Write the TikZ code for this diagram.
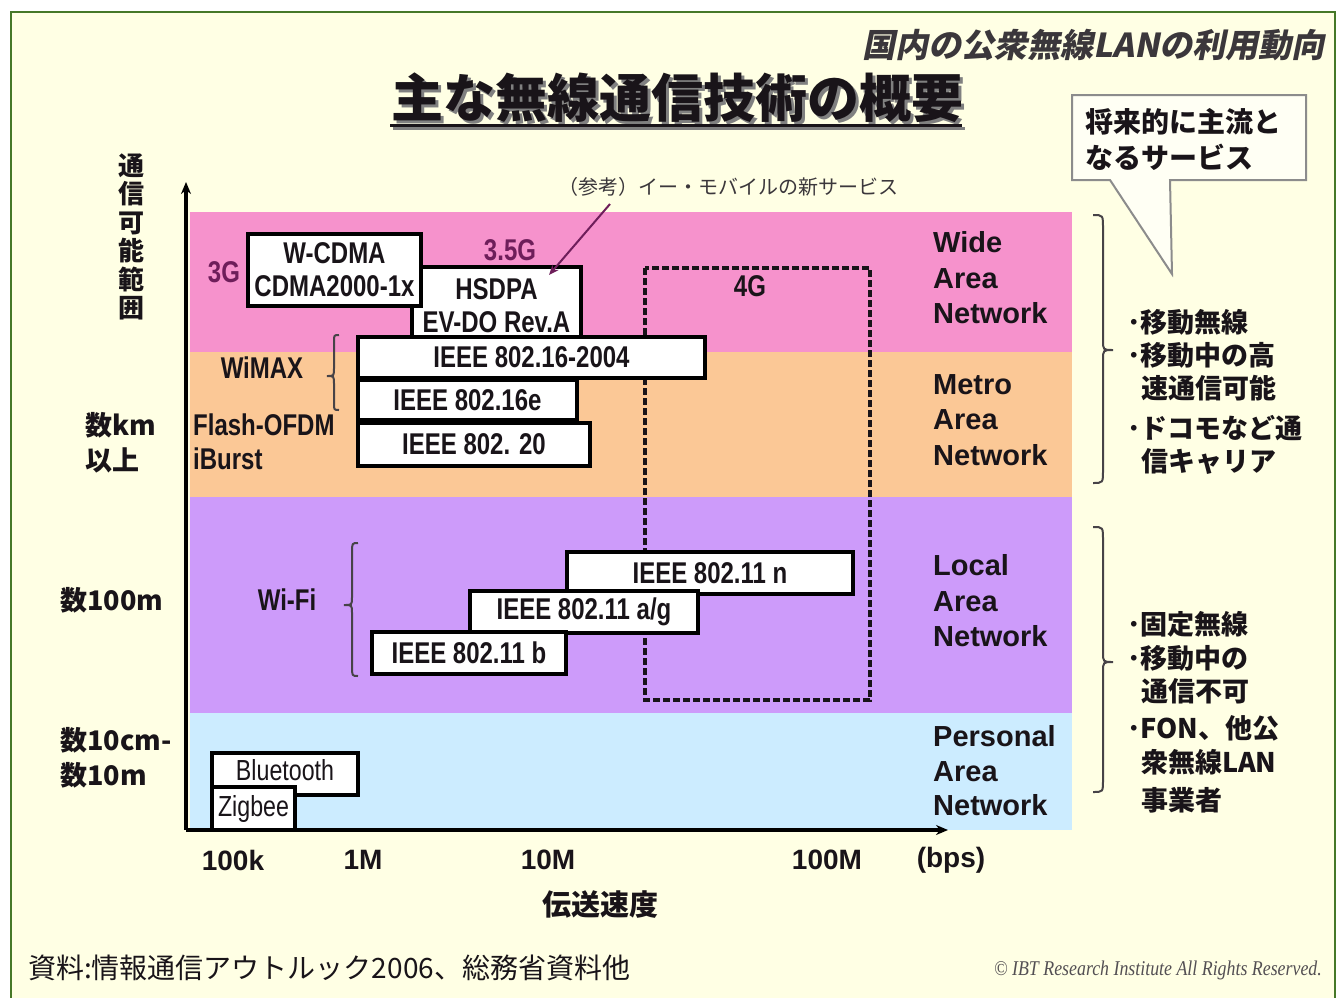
\documentclass[tikz,border=0pt]{standalone}
\usepackage{fontspec}
\usetikzlibrary{arrows.meta}
\newfontfamily\jp{Noto Sans CJK JP}
\newfontfamily\jpsl{Noto Sans CJK JP}[FakeSlant=0.2]
\newfontfamily\nar{Liberation Sans}[FakeStretch=0.8]
\newfontfamily\lsans{Liberation Sans}
\newfontfamily\lser{Liberation Serif}[FakeStretch=0.85]
\definecolor{bg}{RGB}{255,255,228}
\definecolor{framec}{RGB}{70,120,40}
\definecolor{wan}{RGB}{246,146,204}
\definecolor{man}{RGB}{251,200,150}
\definecolor{lan}{RGB}{205,155,250}
\definecolor{pan}{RGB}{204,236,255}
\definecolor{txt}{RGB}{25,20,25}
\definecolor{mag}{RGB}{110,30,90}
\definecolor{callc}{RGB}{140,140,140}
\tikzset{
  techbox/.style={draw=black, line width=3.2pt, fill=white, inner sep=0pt,
    font=\nar\bfseries\fontsize{30}{33}\selectfont, text=txt, align=center},
  nt/.style={font=\nar\bfseries\fontsize{30}{33}\selectfont, text=txt, inner sep=0pt},
  bandlbl/.style={font=\lsans\bfseries\fontsize{29}{35.5}\selectfont, align=left, anchor=west, text=txt, inner sep=0pt},
  jpb/.style={font=\jp\bfseries\fontsize{27}{33}\selectfont, text=txt, inner sep=0pt},
  ticklbl/.style={font=\lsans\bfseries\fontsize{28}{30}\selectfont, inner sep=0pt, text=txt},
  rlist/.style={font=\jp\bfseries\fontsize{27}{33}\selectfont, text=txt, inner sep=0pt, anchor=west},
  bracec/.style={line width=2pt, draw=txt!80},
  axis/.style={line width=3.5pt, draw=black, -{Stealth[length=12pt,width=10pt]}},
}
\begin{document}
\begin{tikzpicture}[x=1pt,y=-1pt]
\useasboundingbox (0,0) rectangle (1339,997);
\fill[white] (0,0) rectangle (1339,997);
\fill[bg] (11,12) rectangle (1335,1002);
\draw[framec, line width=2.5pt] (11,1002) -- (11,12) -- (1335,12) -- (1335,1002);

% bands
\fill[wan] (190,212) rectangle (1072,352);
\fill[man] (190,352) rectangle (1072,497);
\fill[lan] (190,497) rectangle (1072,713);
\fill[pan] (190,713) rectangle (1072,830);

% title (with shadow in one node)
\node[font=\jp\bfseries\fontsize{52}{56}\selectfont, text=txt, inner sep=0pt] (title) at (677.5,99.5)
  {\makebox[0pt][l]{\hspace{3pt}\raisebox{-3pt}{\textcolor{black!50}{主な無線通信技術の概要}}}主な無線通信技術の概要};
\draw[black!50, line width=3pt] (393,128) -- (965,128);
\draw[txt, line width=3pt] (390,125) -- (962,125);

\node[font=\jpsl\bfseries\fontsize{33}{36}\selectfont, text=txt!85, inner sep=0pt, anchor=east] (sub) at (1325,45) {国内の公衆無線LANの利用動向};

% callout
\draw[callc, line width=2pt, fill=white!60!bg] (1072,95) -- (1306,95) -- (1306,180) -- (1170,180) -- (1172,274) -- (1110,180) -- (1072,180) -- cycle;
\node[font=\jp\bfseries\fontsize{28}{36}\selectfont, text=txt, inner sep=0pt, anchor=west, align=left] (call) at (1085,139) {将来的に主流と\\なるサービス};

% axes
\node[font=\jp\bfseries\fontsize{26}{28.5}\selectfont, text=txt, inner sep=0pt, align=center] (ylab) at (131,237) {通\\信\\可\\能\\範\\囲};
\coordinate (orig) at (186,830);
\coordinate (ytop) at (186,182);
\coordinate (xend) at (948,830);
\draw[axis] (orig) -- (ytop);
\draw[axis] (orig) -- (xend);

% left range labels
\node[jpb, anchor=west, align=left, font=\jp\bfseries\fontsize{27}{35}\selectfont] (rkm) at (85,443) {数km\\以上};
\node[jpb, anchor=west] (r100) at (60,600) {数100m};
\node[jpb, anchor=west, align=left, font=\jp\bfseries\fontsize{27}{35}\selectfont] (r10) at (60,758) {数10cm-\\数10m};

% tick labels
\node[ticklbl] (t1) at (233,860) {100k};
\node[ticklbl] (t2) at (363,860) {1M};
\node[ticklbl] (t3) at (548,860) {10M};
\node[ticklbl] (t4) at (827,860) {100M};
\node[ticklbl] (t5) at (951,860) {(bps)};
\node[jpb, font=\jp\bfseries\fontsize{29}{32}\selectfont] (xlab) at (600,905) {伝送速度};

% band labels
\node[bandlbl] (wanl) at (933,278) {Wide\\Area\\Network};
\node[bandlbl] (manl) at (933,420) {Metro\\Area\\Network};
\node[bandlbl] (lanl) at (933,601) {Local\\Area\\Network};
\node[bandlbl, font=\lsans\bfseries\fontsize{29}{34.5}\selectfont] (panl) at (933,771) {Personal\\Area\\Network};

% 4G dashed box
\draw[line width=3.5pt, draw=txt, dash pattern=on 7pt off 3pt] (645,268) rectangle (870,700);
\node[nt] (g4) at (750,286) {4G};

% WAN boxes
\node[techbox, minimum width=169, minimum height=78] (hsdpa) at (496.5,306) {HSDPA\\EV-DO Rev.A};
\node[techbox, minimum width=173, minimum height=72] (wcdma) at (334.5,270) {W-CDMA\\CDMA2000-1x};
\node[nt, text=mag] (g3) at (224,272) {3G};
\node[nt, text=mag] (g35) at (510,250) {3.5G};

% reference arrow
\node[font=\jp\fontsize{20}{22}\selectfont, text=txt!85, inner sep=0pt] (ref) at (728,187) {（参考）イー・モバイルの新サービス};
\coordinate (arrS) at (610,204);
\coordinate (arrE) at (549,275);
\draw[mag, line width=2pt, -{Stealth[length=10pt,width=8pt]}] (arrS) -- (arrE);

% MAN boxes
\node[techbox, minimum width=347, minimum height=41] (w16) at (531.5,357.5) {IEEE 802.16-2004};
\node[techbox, minimum width=219, minimum height=40] (w16e) at (467.5,400) {IEEE 802.16e};
\node[techbox, minimum width=232, minimum height=43] (w20) at (474,444.5) {IEEE 802. 20};
\node[nt] (wimax) at (262,368) {WiMAX};
\node[nt, anchor=west] (flash) at (193,425) {Flash-OFDM};
\node[nt, anchor=west] (ibur) at (193,459) {iBurst};
\draw[bracec] (339,335) .. controls (334,335) .. (334,342) -- (334,368) .. controls (334,376) .. (327,376) .. controls (334,376) .. (334,384) -- (334,403) .. controls (334,410) .. (339,410);

% LAN boxes
\node[techbox, minimum width=286, minimum height=42] (n11) at (710,573) {IEEE 802.11 n};
\node[techbox, minimum width=228, minimum height=42] (ag11) at (584,612) {IEEE 802.11 a/g};
\node[techbox, minimum width=194, minimum height=42] (b11) at (469,653) {IEEE 802.11 b};
\node[nt] (wifi) at (287,600) {Wi-Fi};
\draw[bracec] (358,543) .. controls (352,543) .. (352,553) -- (352,597) .. controls (352,605) .. (344,605) .. controls (352,605) .. (352,613) -- (352,666) .. controls (352,676) .. (358,676);

% PAN boxes
\node[techbox, minimum width=146, minimum height=42, font=\nar\fontsize{29}{32}\selectfont] (bt) at (285,774) {\raisebox{8pt}{Bluetooth}};
\node[techbox, minimum width=83, minimum height=43, font=\nar\fontsize{29}{32}\selectfont] (zig) at (253.5,808.5) {Zigbee};

% right braces
\draw[bracec] (1093,215) .. controls (1103,215) .. (1103,228) -- (1103,340) .. controls (1103,350) .. (1113,350) .. controls (1103,350) .. (1103,360) -- (1103,470) .. controls (1103,483) .. (1093,483);
\draw[bracec] (1093,527) .. controls (1103,527) .. (1103,540) -- (1103,652) .. controls (1103,662) .. (1113,662) .. controls (1103,662) .. (1103,672) -- (1103,780) .. controls (1103,792) .. (1093,792);

% right lists
\node[rlist] (a1) at (1127,322) {･移動無線};
\node[rlist] (a2) at (1127,355) {･移動中の高};
\node[rlist] (a3) at (1141,388) {速通信可能};
\node[rlist] (a4) at (1127,428) {･ドコモなど通};
\node[rlist] (a5) at (1141,461) {信キャリア};
\node[rlist] (b1) at (1127,624) {･固定無線};
\node[rlist] (b2) at (1127,658) {･移動中の};
\node[rlist] (b3) at (1141,691) {通信不可};
\node[rlist] (b4) at (1127,728) {･FON、他公};
\node[rlist] (b5) at (1141,762) {衆無線LAN};
\node[rlist] (b6) at (1141,800) {事業者};

% footer
\node[font=\jp\fontsize{28}{30}\selectfont, text=txt, inner sep=0pt, anchor=west] (src) at (28,968) {資料:情報通信アウトルック2006、総務省資料他};
\node[font=\lser\itshape\fontsize{21}{24}\selectfont, text=txt!75, inner sep=0pt, anchor=east] (copy) at (1322,970) {© IBT Research Institute All Rights Reserved.};
\end{tikzpicture}
\end{document}
